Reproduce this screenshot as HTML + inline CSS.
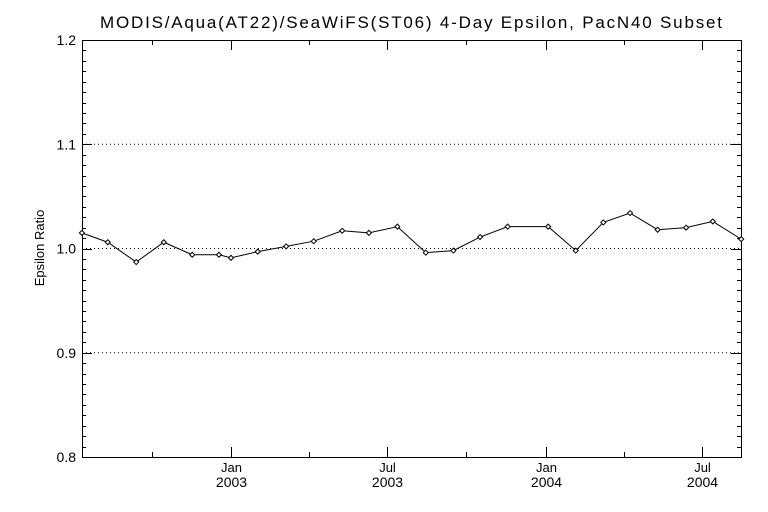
<!DOCTYPE html>
<html><head><meta charset="utf-8"><style>
body{margin:0;background:#fff}
svg{display:block;font-family:"Liberation Sans",sans-serif}
</style></head><body>
<svg id="c" width="768" height="512" xmlns="http://www.w3.org/2000/svg">
<rect width="768" height="512" fill="#fff"/>
<text x="100" y="28" font-size="17" textLength="622" lengthAdjust="spacing">MODIS/Aqua(AT22)/SeaWiFS(ST06) 4-Day Epsilon, PacN40 Subset</text>
<text transform="translate(44,248) rotate(-90)" text-anchor="middle" font-size="13">Epsilon Ratio</text>
<g id="g"></g>
</svg>
<script>
const dates=["2002-07-12","2002-08-11","2002-09-13","2002-10-15","2002-11-17","2002-12-18","2003-01-01","2003-02-01","2003-03-06","2003-04-07","2003-05-10","2003-06-10","2003-07-13","2003-08-15","2003-09-16","2003-10-17","2003-11-18","2004-01-04","2004-02-05","2004-03-08","2004-04-08","2004-05-10","2004-06-12","2004-07-13","2004-08-15"];
const values=[1.015,1.006,0.987,1.006,0.994,0.994,0.991,0.997,1.002,1.007,1.017,1.015,1.021,0.996,0.998,1.011,1.021,1.021,0.998,1.025,1.034,1.018,1.020,1.026,1.009];
const yTicks=[0.8,0.9,1.0,1.1,1.2];
const yTickLabels=["0.8","0.9","1.0","1.1","1.2"];
const xMajor=[["2003-01-01","Jan","2003"],["2003-07-01","Jul","2003"],["2004-01-01","Jan","2004"],["2004-07-01","Jul","2004"]];
const xMinor=["2002-10-01","2003-04-01","2003-10-01","2004-04-01"];
const L=82,R=741,T=40,B=457;
const d0=Date.UTC(2003,0,1),DAY=864e5;
function days(s){const p=s.split('-');return (Date.UTC(+p[0],p[1]-1,+p[2])-d0)/DAY;}
function X(s){return 231+days(s)*156/181;}
function Y(v){return B-(v-0.8)*(B-T)/0.4;}
const g=document.getElementById('g');const NS="http://www.w3.org/2000/svg";
function el(t,a,txt){const e=document.createElementNS(NS,t);for(const k in a)e.setAttribute(k,a[k]);if(txt!=null)e.textContent=txt;g.appendChild(e);return e;}
let e;
for(const v of [0.9,1.0,1.1]){e=el('line',{x1:L,x2:R,y1:Y(v),y2:Y(v),stroke:'#000','stroke-width':1,'stroke-dasharray':'1 3'});

}
for(let i=0;i<=40;i++){const v=0.8+i*0.01;const y=Math.round(Y(v))+0.5;const len=i%10===0?10:4;
e=el('line',{x1:L,x2:L+len,y1:y,y2:y,stroke:'#000'});


e=el('line',{x1:R-len,x2:R,y1:y,y2:y,stroke:'#000'});

}
yTicks.forEach((v,i)=>{e=el('text',{x:L-6,y:Y(v)+5,'text-anchor':'end','font-size':14},yTickLabels[i]);

});
xMajor.forEach(m=>{const x=Math.round(X(m[0]))+0.5;
e=el('line',{x1:x,x2:x,y1:B,y2:B-10,stroke:'#000'});


e=el('line',{x1:x,x2:x,y1:T,y2:T+10,stroke:'#000'});


e=el('text',{x:x,y:B+15,'text-anchor':'middle','font-size':13},m[1]);


e=el('text',{x:x,y:B+30,'text-anchor':'middle','font-size':14},m[2]);

});
xMinor.forEach(s=>{const x=Math.round(X(s))+0.5;
e=el('line',{x1:x,x2:x,y1:B,y2:B-5,stroke:'#000'});


e=el('line',{x1:x,x2:x,y1:T,y2:T+5,stroke:'#000'});

});
e=el('rect',{x:L+0.5,y:T+0.5,width:R-L,height:B-T,fill:'none',stroke:'#000'});


const pts=dates.map((d,i)=>[X(d),Y(values[i])]);
e=el('polyline',{points:pts.map(p=>p.join(',')).join(' '),fill:'none',stroke:'#000','stroke-width':1});


pts.forEach(p=>{e=el('path',{d:`M${p[0]-2.5},${p[1]} L${p[0]},${p[1]-2.5} L${p[0]+2.5},${p[1]} L${p[0]},${p[1]+2.5} Z`,fill:'#fff',stroke:'#000'});

});
</script>
</body></html>
